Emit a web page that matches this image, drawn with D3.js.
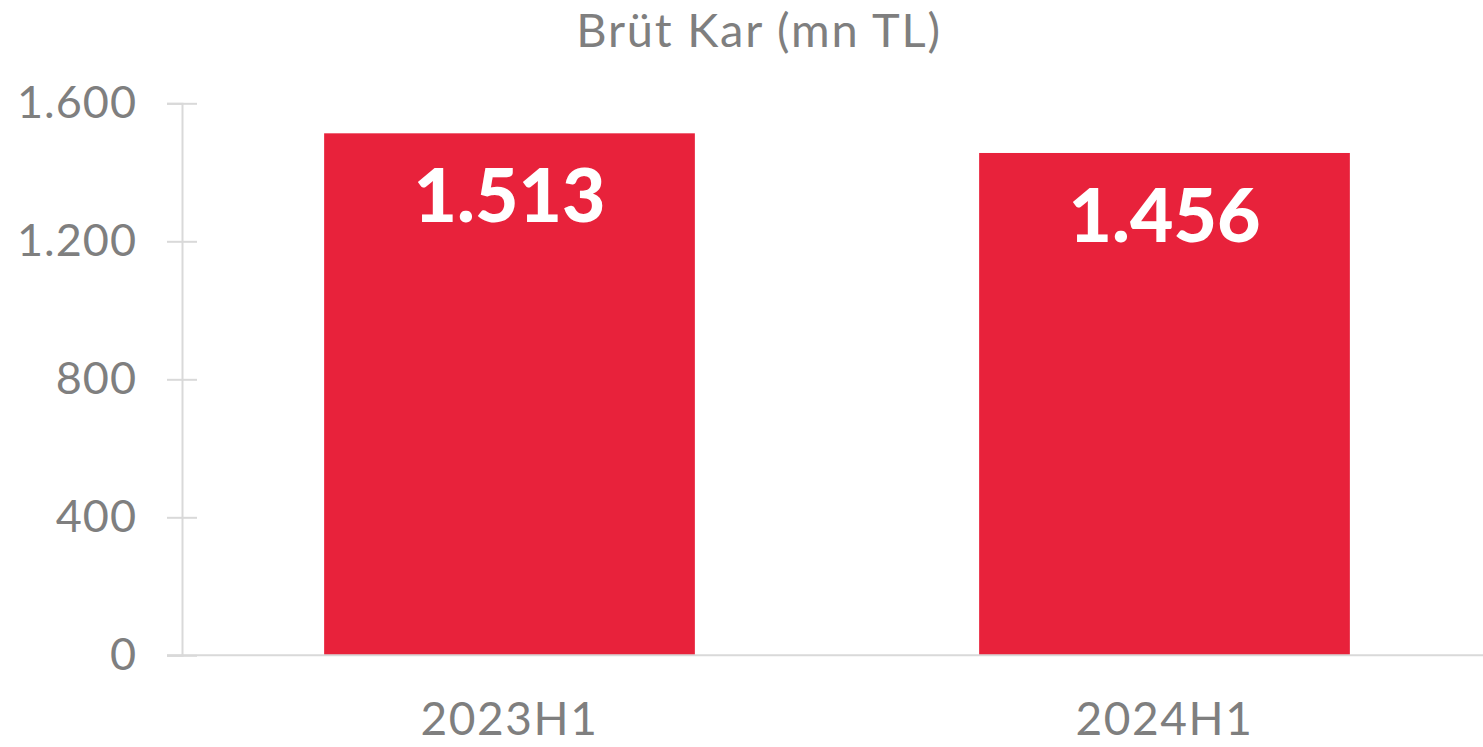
<!DOCTYPE html>
<html lang="tr">
<head>
  <meta charset="UTF-8">
  <title>Brüt Kar</title>
  <script src="https://d3js.org/d3.v7.min.js"></script>
  <style>
    body { margin: 0; background: #fff; }
    svg { display: block; }
    text { font-family: Lato, 'Noto Sans', sans-serif; }
  </style>
</head>
<body>
  <svg></svg>
  <script>
    const periods = ["2023H1", "2024H1"];
    const grossProfit = [1513, 1456];
    const yTicks = [0, 400, 800, 1200, 1600];
    const title = "Brüt Kar (mn TL)";

    const width = 1483, height = 747;
    const svg = d3.select("svg").attr("width", width).attr("height", height);

    const x = d3.scaleBand()
      .domain(periods)
      .range([182, 1492])
      .paddingInner(0.434)
      .paddingOuter(0.217);

    const y = d3.scaleLinear()
      .domain([0, 1600])
      .range([655.3, 103.3]);

    const fmt = d => d3.format(",")(d).replace(/,/g, ".");

    // title
    svg.append("text")
      .attr("x", 759)
      .attr("y", 47)
      .attr("text-anchor", "middle")
      .attr("fill", "#7f7f7f")
      .attr("font-size", 47)
      .attr("letter-spacing", 1.8)
      .text(title);

    // bars
    svg.selectAll("rect.bar")
      .data(periods)
      .join("rect")
      .attr("class", "bar")
      .attr("x", d => x(d))
      .attr("width", x.bandwidth())
      .attr("y", (d, i) => y(grossProfit[i]))
      .attr("height", (d, i) => y(0) - y(grossProfit[i]))
      .attr("fill", "#e8223b");

    // y axis
    const yAxis = svg.append("g")
      .attr("transform", "translate(182,0)")
      .call(d3.axisLeft(y).tickValues(yTicks).tickFormat(fmt).tickSize(15).tickPadding(30));
    yAxis.select(".domain").attr("stroke", "#d9d9d9").attr("stroke-width", 2);
    yAxis.selectAll(".tick line")
      .attr("stroke", "#d9d9d9").attr("stroke-width", 2)
      .attr("x1", 15).attr("x2", -15);
    yAxis.selectAll(".tick text")
      .attr("fill", "#7f7f7f")
      .attr("font-size", 45)
      .attr("letter-spacing", 1)
      .attr("font-family", "Lato, 'Noto Sans', sans-serif");

    // baseline
    svg.append("line")
      .attr("x1", 167).attr("x2", width)
      .attr("y1", y(0)).attr("y2", y(0))
      .attr("stroke", "#d9d9d9").attr("stroke-width", 2);

    // category labels
    svg.selectAll("text.cat")
      .data(periods)
      .join("text")
      .attr("class", "cat")
      .attr("x", d => x(d) + x.bandwidth() / 2)
      .attr("y", 735)
      .attr("text-anchor", "middle")
      .attr("fill", "#7f7f7f")
      .attr("font-size", 46)
      .attr("letter-spacing", 1.6)
      .text(d => d);

    // value labels
    svg.selectAll("text.val")
      .data(periods)
      .join("text")
      .attr("class", "val")
      .attr("x", d => x(d) + x.bandwidth() / 2)
      .attr("y", (d, i) => y(grossProfit[i]) + 89)
      .attr("text-anchor", "middle")
      .attr("fill", "#fff")
      .attr("font-weight", 900)
      .attr("font-size", 75)
      .text((d, i) => fmt(grossProfit[i]));
  </script>
</body>
</html>
